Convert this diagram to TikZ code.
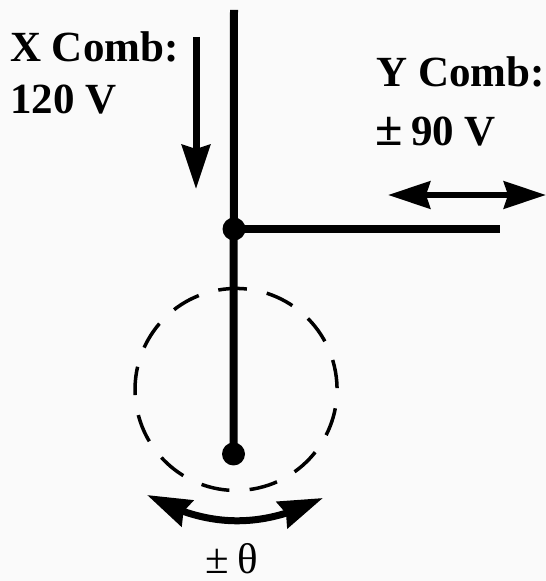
\documentclass[tikz,border=0pt]{standalone}
\usepackage{fontspec}
\setmainfont{Liberation Serif}
\usetikzlibrary{arrows.meta,bending}

\begin{document}
\begin{tikzpicture}[x=1pt, y=1pt,
  lab/.style={font=\fontsize{43}{43}\selectfont\bfseries, anchor=base west, inner sep=0pt},
  ang/.style={font=\fontsize{43}{43}\selectfont, anchor=base, inner sep=0pt},
  dot/.style={circle, fill=black, inner sep=0pt, minimum size=23pt},
  rod/.style={line width=8pt},
  bigarrow/.style={line width=7pt, {Stealth[length=44pt,width=28pt,inset=4pt,flex=1]}-{Stealth[length=44pt,width=28pt,inset=4pt,flex=1]}}]
  \fill[black!2] (0,0) rectangle (546,581);
  \useasboundingbox (0,0) rectangle (546,581);
  % rods
  \node[dot] (hub) at (234,352) {};
  \node[dot] (pivot) at (233.5,127) {};
  \coordinate (rodtop) at (234,571);
  \coordinate (armend) at (500,352);
  \draw[rod] (rodtop) -- (pivot.center);
  \draw[rod] (hub.center) -- (armend);
  % swing circle
  \draw[line width=3.5pt, dash pattern=on 28.5pt off 20.3pt] (218.5,291) arc[start angle=100, delta angle=-360, radius=101];
  % labels
  \node[lab] (xcomb) at (10,519) {X Comb:};
  \node[lab] (xvolt) at (10,467) {120 V};
  \node[lab] (ycomb) at (376,494) {Y Comb:};
  \node[lab] (yvolt) at (375,435) {{\fontsize{50}{50}\selectfont ±}\hspace{0.2em}90 V};
  \node[ang] (theta) at (232,7) {±\hspace{0.2em}θ};
  % motion arrows
  \coordinate (xstart) at (196,544);
  \coordinate (xend) at (196,392);
  \coordinate (yleft) at (388,386);
  \coordinate (yright) at (546,386);
  \coordinate (swingl) at (147,86);
  \coordinate (swingr) at (323,83);
  \draw[line width=7pt, -{Stealth[length=44pt,width=28pt,inset=4pt]}] (xstart) -- (xend);
  \draw[line width=6.5pt, {Stealth[length=42pt,width=27pt,inset=4pt]}-{Stealth[length=42pt,width=27pt,inset=4pt]}] (yleft) -- (yright);
  \draw[bigarrow] (swingl) to[bend right=28] (swingr);
\end{tikzpicture}
\end{document}
